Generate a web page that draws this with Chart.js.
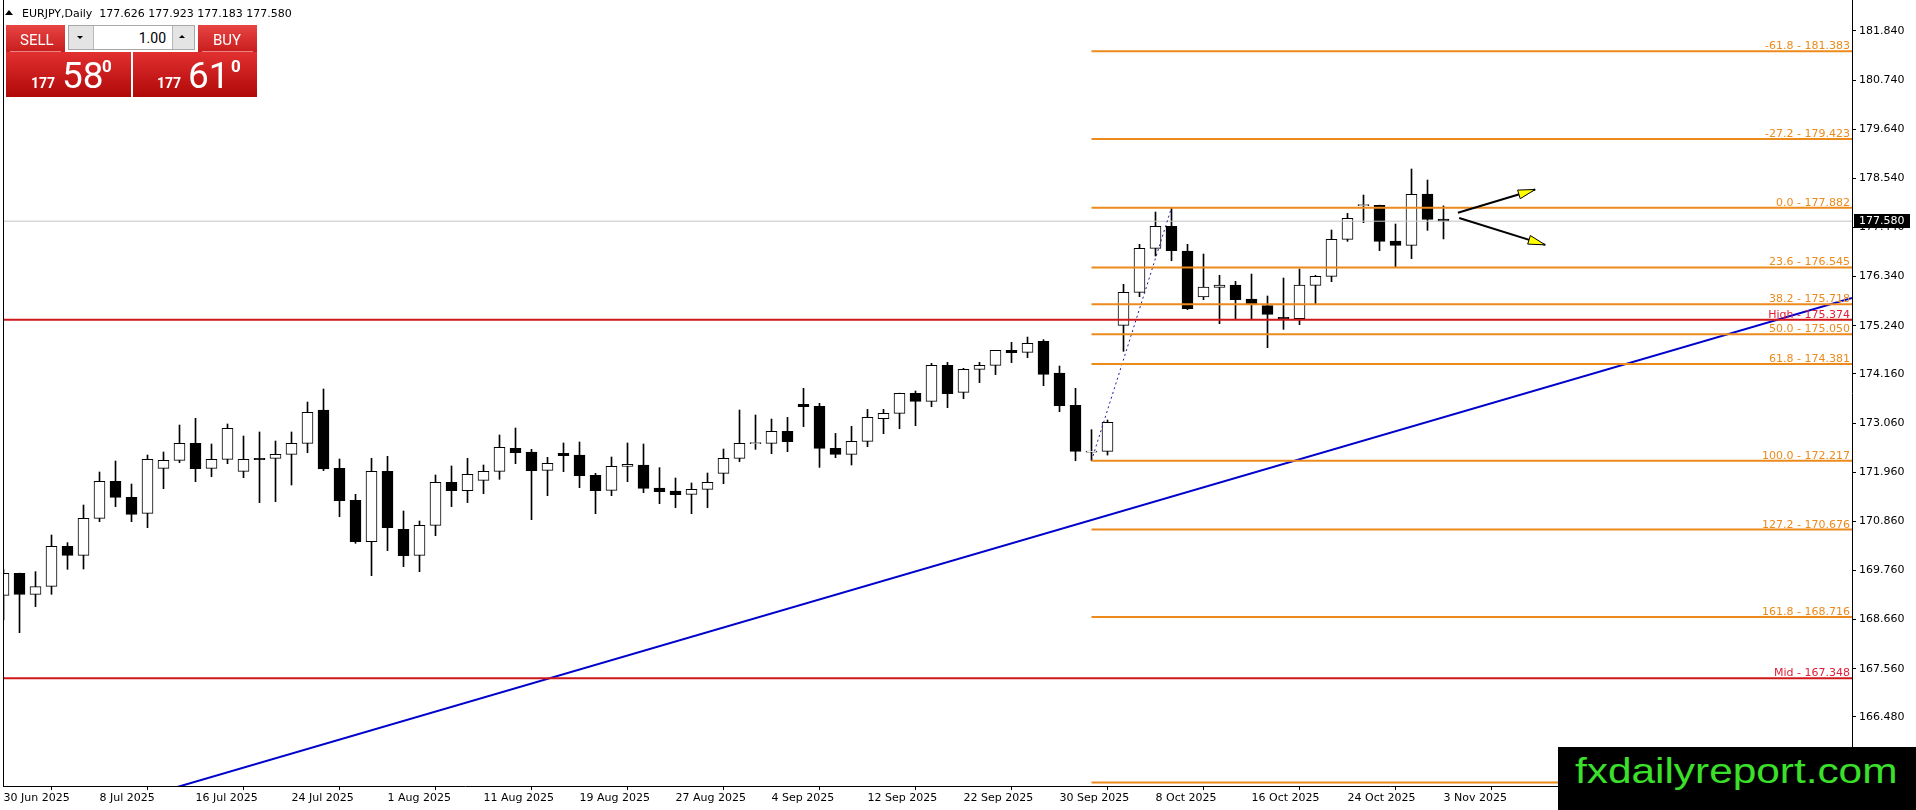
<!DOCTYPE html>
<html>
<head>
<meta charset="utf-8">
<script src="https://cdn.jsdelivr.net/npm/chart.js@4.4.1/dist/chart.umd.min.js"></script>
<style>
html, body { margin: 0; padding: 0; background: #fff; }
#wrap { position: relative; width: 1916px; height: 810px; overflow: hidden; }
#c { position: absolute; left: 0; top: 0; }
.abs { position: absolute; white-space: nowrap; line-height: 1; }
#head { left: 22px; top: 7px; font: 11px "DejaVu Sans"; color: #000; line-height: 13px; }
#tri { left: 5px; top: 10px; width: 0; height: 0; border-left: 4px solid transparent; border-right: 4px solid transparent; border-bottom: 5px solid #000; }
.btn { position: absolute; top: 25px; height: 27px; background: linear-gradient(#e84444, #c81d1d); box-sizing: border-box; }
.btn .line { position: absolute; left: 4px; right: 4px; bottom: 0; height: 1px; background: rgba(255,200,200,0.6); }
.btn span { position: absolute; font: 15px Roboto; color: #fff; line-height: 1; }
#lot { position: absolute; left: 68px; top: 25px; width: 127px; height: 25px; background: #e4e4e4; border: 1px solid #a8a8a8; box-sizing: border-box; }
#lot .field { position: absolute; left: 24px; top: 0; width: 78px; height: 23px; background: #fff; border-left: 1px solid #b8b8b8; border-right: 1px solid #b8b8b8; }
#lot .field span { position: absolute; right: 6px; top: 5px; font: 14px Roboto; color: #000; line-height: 1; }
.dn { position: absolute; left: 8px; top: 10px; border-left: 3px solid transparent; border-right: 3px solid transparent; border-top: 3px solid #000; }
.up { position: absolute; left: 110px; top: 9px; border-left: 3px solid transparent; border-right: 3px solid transparent; border-bottom: 3px solid #000; }
.big { position: absolute; top: 52px; height: 45px; background: linear-gradient(#e23030, #b00808); }
.big span { position: absolute; color: #fff; font-family: Roboto; line-height: 1; }
#wm { position: absolute; left: 1558px; top: 747px; width: 358px; height: 63px; background: #000; overflow: hidden; }
#wm span { position: absolute; left: 17px; top: 6px; font: 35px "Liberation Sans"; color: #3be02a; line-height: 1; transform: scaleX(1.21); transform-origin: 0 0; }
</style>
</head>
<body>
<div id="wrap">
<canvas id="c" width="1916" height="810"></canvas>
<div id="tri" class="abs"></div>
<div id="head" class="abs">EURJPY,Daily&nbsp; 177.626 177.923 177.183 177.580</div>

<div class="btn" style="left:6px;width:59px;"><span style="left:14px;top:8px;">SELL</span><div class="line"></div></div>
<div id="lot"><div class="dn"></div><div class="field"><span>1.00</span></div><div class="up"></div></div>
<div class="btn" style="left:198px;width:59px;"><span style="left:15px;top:8px;">BUY</span><div class="line"></div></div>

<div class="big" style="left:6px;width:125px;">
  <span style="left:25px;top:24px;font-size:14px;font-weight:bold;">177</span>
  <span style="left:56px;top:5px;font-size:37px;">58</span>
  <span style="left:96px;top:6px;font-size:17px;font-weight:bold;">0</span>
</div>
<div class="big" style="left:133px;width:124px;">
  <span style="left:24px;top:24px;font-size:14px;font-weight:bold;">177</span>
  <span style="left:55px;top:5px;font-size:37px;">61</span>
  <span style="left:98px;top:6px;font-size:17px;font-weight:bold;">0</span>
</div>

<div id="wm"><span>fxdailyreport.com</span></div>
</div>

<script>
// EURJPY daily, 30 Jun 2025 .. 3 Nov 2025 (index 0 .. 90)
const opens = [169.202,169.695,169.225,169.404,170.300,170.098,170.927,171.755,171.397,171.039,
  172.046,172.225,172.606,172.046,172.248,171.979,172.270,172.270,172.360,172.606,
  173.352,172.046,171.330,170.404,171.979,170.680,170.098,170.770,171.733,171.546,
  171.778,171.979,172.494,172.412,172.001,172.382,172.345,171.890,171.554,172.091,
  172.121,171.606,171.539,171.464,171.576,171.934,172.270,172.600,172.605,172.874,
  173.479,173.434,172.494,172.359,172.650,173.158,173.277,173.725,173.546,174.352,
  173.747,174.262,174.352,174.688,174.643,174.889,174.180,173.456,172.410,172.426,
  175.248,175.987,176.972,177.465,176.912,175.882,176.099,176.151,175.838,175.688,
  175.427,175.397,176.144,176.345,177.174,177.930,177.935,177.136,177.039,178.189,
  177.626];
const highs = [169.780,169.700,169.732,170.553,170.382,171.225,171.964,172.210,171.695,172.345,
  172.412,173.016,173.166,172.591,173.039,172.770,172.860,172.658,172.860,173.531,
  173.823,172.255,171.464,172.270,172.315,171.091,170.867,171.897,172.099,172.270,
  172.121,172.793,172.949,172.472,172.293,172.614,172.636,171.934,172.300,172.614,
  172.591,172.061,171.830,171.718,171.942,172.479,173.352,173.240,173.150,173.188,
  173.837,173.501,172.829,172.986,173.367,173.367,173.730,173.777,174.397,174.419,
  174.285,174.419,174.690,174.867,174.986,174.927,174.337,173.837,172.912,173.128,
  176.166,177.062,177.786,177.882,177.062,176.845,176.368,176.233,176.397,175.905,
  176.308,176.509,176.368,177.383,177.756,178.166,177.940,177.517,178.749,178.502,
  177.923];
const lows = [168.650,168.366,168.949,169.225,169.785,169.792,170.852,171.188,170.852,170.718,
  171.591,172.173,171.748,171.860,172.151,171.837,171.277,171.300,171.673,172.397,
  171.994,170.964,170.367,169.643,170.203,169.844,169.732,170.539,171.188,171.278,
  171.479,171.800,172.151,170.897,171.434,171.972,171.613,171.031,171.434,171.748,
  171.501,171.255,171.166,171.031,171.166,171.703,172.196,172.471,172.374,172.419,
  172.979,172.068,172.285,172.120,172.531,172.822,172.934,173.001,173.426,173.404,
  173.606,173.964,174.143,174.412,174.524,173.897,173.315,172.217,172.217,172.344,
  174.666,175.890,176.801,176.696,175.599,175.823,175.285,175.382,175.382,174.748,
  175.158,175.263,175.718,176.226,177.129,177.547,176.920,176.547,176.741,177.375,
  177.183];
const closes = [169.695,169.225,169.396,170.300,170.098,170.927,171.755,171.397,171.016,172.248,
  172.225,172.606,172.039,172.248,172.942,172.248,172.240,172.360,172.606,173.300,
  172.031,171.322,170.404,171.979,170.718,170.091,170.770,171.733,171.546,171.912,
  171.979,172.516,172.397,171.994,172.158,172.330,171.882,171.546,172.091,172.136,
  171.598,171.524,171.457,171.576,171.733,172.270,172.606,172.612,172.874,172.643,
  173.426,172.494,172.359,172.650,173.188,173.277,173.725,173.546,174.352,173.718,
  174.262,174.352,174.688,174.636,174.845,174.151,173.449,172.426,172.425,173.076,
  175.987,176.972,177.465,176.920,175.621,176.106,176.151,175.823,175.733,175.494,
  175.397,176.151,176.345,177.174,177.644,177.940,177.129,177.039,178.181,177.622,
  177.580];

const dateTicks = [0, 6, 12, 18, 24, 30, 36, 42, 48, 54, 60, 66, 72, 78, 84, 90];
const dateLabels = ['30 Jun 2025', '8 Jul 2025', '16 Jul 2025', '24 Jul 2025', '1 Aug 2025', '11 Aug 2025',
  '19 Aug 2025', '27 Aug 2025', '4 Sep 2025', '12 Sep 2025', '22 Sep 2025', '30 Sep 2025',
  '8 Oct 2025', '16 Oct 2025', '24 Oct 2025', '3 Nov 2025'];
const priceTicks = [181.840, 180.740, 179.640, 178.540, 177.440, 176.340, 175.240, 174.160,
  173.060, 171.960, 170.860, 169.760, 168.660, 167.560, 166.480];

// fibonacci levels drawn from the 2 Oct low
const fibRatios = ['-61.8', '-27.2', '0.0', '23.6', '38.2', '50.0', '61.8', '100.0', '127.2', '161.8', '227.2'];
const fibPrices = [181.383, 179.423, 177.882, 176.545, 175.718, 175.050, 174.381, 172.217, 170.676, 168.716, 165.011];
const fibStart = 68;

const redNames = ['High', 'Mid'];
const redPrices = [175.374, 167.348];
const lastPrice = 177.580;

// trend line anchors (bar index, price)
const trendIdx = [20, 110];
const trendPrices = [165.867, 175.280];
// swing dotted line
const swingIdx = [68, 73];
const swingPrices = [172.217, 177.882];
// arrows (bar index, price)
const arrowFromIdx = [90.9, 90.98];
const arrowFromPrice = [177.77, 177.65];
const arrowToIdx = [95.73, 96.36];
const arrowToPrice = [178.29, 177.05];

const xMin = -1 / 32;
const xMax = xMin + 1849 / 16;
const yMin = 164.933;
const yMax = 182.533;

const orange = '#ec8a1c';
const red = '#d01818';
const fontFam = '"DejaVu Sans"';

const datasets = [];

datasets.push({
  type: 'bar', order: 5, grouped: false, barThickness: 1,
  data: lows.map((l, i) => ({ x: i, y: [l, highs[i]] })),
  backgroundColor: '#000', borderWidth: 0
});
datasets.push({
  type: 'bar', order: 4, grouped: false, barThickness: 11, minBarLength: 1,
  data: opens.map((o, i) => ({ x: i, y: [Math.min(o, closes[i]), Math.max(o, closes[i])] })),
  backgroundColor: opens.map((o, i) => closes[i] >= o ? '#fff' : '#000'),
  borderColor: '#000', borderWidth: 1, borderSkipped: false
});

const lineDs = (pts, color, width, extra) => Object.assign({
  type: 'line', order: 1, data: pts, borderColor: color, borderWidth: width,
  pointRadius: 0, fill: false, tension: 0
}, extra || {});

datasets.push(lineDs([{ x: xMin, y: lastPrice }, { x: xMax, y: lastPrice }], '#c4c4c4', 1, { order: 3 }));
fibPrices.forEach(p => datasets.push(lineDs([{ x: fibStart, y: p }, { x: xMax, y: p }], orange, 2)));
redPrices.forEach(p => datasets.push(lineDs([{ x: xMin, y: p }, { x: xMax, y: p }], red, 2)));

const slope = (trendPrices[1] - trendPrices[0]) / (trendIdx[1] - trendIdx[0]);
datasets.push(lineDs([
  { x: xMin, y: trendPrices[0] + (xMin - trendIdx[0]) * slope },
  { x: xMax, y: trendPrices[0] + (xMax - trendIdx[0]) * slope }
], '#0000cc', 2));
datasets.push(lineDs(swingIdx.map((x, i) => ({ x, y: swingPrices[i] })), '#1a1a9a', 1, { borderDash: [2, 3] }));
arrowFromIdx.forEach((x, i) => datasets.push(lineDs([
  { x, y: arrowFromPrice[i] }, { x: arrowToIdx[i], y: arrowToPrice[i] }
], '#000', 2, { order: 0 })));

const overlay = {
  id: 'overlay',
  afterDatasetsDraw(chart) {
    const { ctx, chartArea, scales } = chart;
    const x = scales.x, y = scales.y;
    ctx.save();
    ctx.font = '11px ' + fontFam;
    ctx.textAlign = 'right';
    ctx.textBaseline = 'alphabetic';
    ctx.fillStyle = orange;
    fibPrices.forEach((p, i) => {
      ctx.fillText(fibRatios[i] + ' - ' + p.toFixed(3), chartArea.right - 2, y.getPixelForValue(p) - 2);
    });
    ctx.fillStyle = '#e0203a';
    redPrices.forEach((p, i) => {
      ctx.fillText(redNames[i] + ' - ' + p.toFixed(3), chartArea.right - 2, y.getPixelForValue(p) - 2);
    });
    // arrow heads
    arrowFromIdx.forEach((fx, i) => {
      const x0 = x.getPixelForValue(fx), y0 = y.getPixelForValue(arrowFromPrice[i]);
      const x1 = x.getPixelForValue(arrowToIdx[i]), y1 = y.getPixelForValue(arrowToPrice[i]);
      const len = Math.hypot(x1 - x0, y1 - y0);
      const ux = (x1 - x0) / len, uy = (y1 - y0) / len;
      const bx = x1 - ux * 17, by = y1 - uy * 17;
      ctx.beginPath();
      ctx.moveTo(x1, y1);
      ctx.lineTo(bx - uy * 4.5, by + ux * 4.5);
      ctx.lineTo(bx + uy * 4.5, by - ux * 4.5);
      ctx.closePath();
      ctx.fillStyle = '#ffff00';
      ctx.fill();
      ctx.strokeStyle = '#000';
      ctx.lineWidth = 1;
      ctx.stroke();
    });
    // left frame
    ctx.strokeStyle = '#000';
    ctx.lineWidth = 1;
    ctx.beginPath();
    ctx.moveTo(chartArea.left + 0.5, 0);
    ctx.lineTo(chartArea.left + 0.5, chartArea.bottom);
    ctx.stroke();
    ctx.restore();
  },
  afterDraw(chart) {
    const { ctx, chartArea, scales } = chart;
    const py = Math.round(scales.y.getPixelForValue(lastPrice));
    ctx.save();
    ctx.fillStyle = '#000';
    ctx.fillRect(chartArea.right + 2, py - 7, 56, 14);
    ctx.fillStyle = '#fff';
    ctx.font = '11px ' + fontFam;
    ctx.textAlign = 'left';
    ctx.textBaseline = 'middle';
    ctx.fillText(lastPrice.toFixed(3), chartArea.right + 7, py + 0.5);
    ctx.restore();
  }
};

Chart.defaults.font.family = fontFam;
Chart.defaults.font.size = 11;
Chart.defaults.color = '#000';

new Chart(document.getElementById('c'), {
  type: 'bar',
  data: { datasets },
  options: {
    responsive: false,
    animation: false,
    devicePixelRatio: 1,
    layout: { padding: { left: 3, top: 0, right: 0, bottom: 0 } },
    plugins: { legend: { display: false }, tooltip: { enabled: false } },
    scales: {
      x: {
        type: 'linear', min: xMin, max: xMax, offset: false,
        grid: { drawOnChartArea: false, drawTicks: true, tickLength: 4, color: '#000' },
        border: { display: true, color: '#000', width: 1 },
        ticks: {
          autoSkip: false, maxRotation: 0, minRotation: 0, align: 'start', padding: 2, color: '#000',
          callback: v => { const k = dateTicks.indexOf(v); return k >= 0 ? dateLabels[k] : ''; }
        },
        afterBuildTicks: s => { s.ticks = dateTicks.map(v => ({ value: v })); },
        afterFit: s => { s.height = 24; s.paddingLeft = 0; s.paddingRight = 0; }
      },
      y: {
        type: 'linear', position: 'right', min: yMin, max: yMax,
        grid: { drawOnChartArea: false, drawTicks: true, tickLength: 4, color: '#000' },
        border: { display: true, color: '#000', width: 1 },
        ticks: { padding: 3, color: '#000', callback: v => Number(v).toFixed(3) },
        afterBuildTicks: s => { s.ticks = priceTicks.map(v => ({ value: v })); },
        afterFit: s => { s.width = 64; s.paddingTop = 0; s.paddingBottom = 0; }
      }
    }
  },
  plugins: [overlay]
});
</script>
</body>
</html>
